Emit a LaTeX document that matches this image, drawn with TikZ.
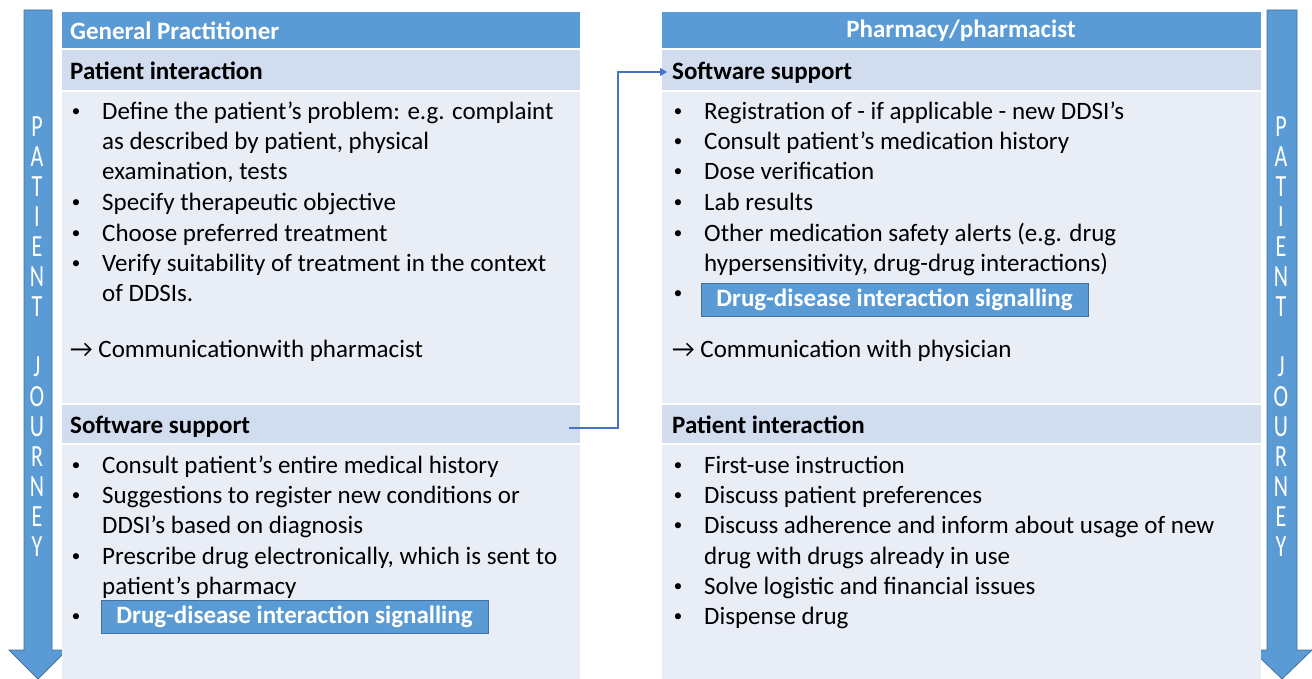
\documentclass[tikz,border=0pt]{standalone}
\usepackage{fontspec}
\setmainfont{Carlito}
\newfontfamily\symfont{DejaVu Sans}
\usetikzlibrary{arrows.meta}
\definecolor{hdr}{HTML}{5B9BD5}
\definecolor{hdrline}{HTML}{41719C}
\definecolor{subfill}{HTML}{D1DCEE}
\definecolor{bodyfill}{HTML}{E9EDF6}
\definecolor{linkcol}{HTML}{4472C4}
\newcommand{\tallch}[1]{\scalebox{1}[1.4]{#1}}
\begin{document}
\begin{tikzpicture}[x=1pt,y=-1pt,
  txt/.style={anchor=base west,inner sep=0pt,font=\fontsize{25}{30}\selectfont},
  bold/.style={txt,font=\fontsize{25}{30}\selectfont\bfseries},
  hdrtxt/.style={inner sep=0pt,text=white,font=\fontsize{25}{30}\selectfont\bfseries},
  dot/.style={anchor=base,inner sep=0pt,font=\symfont\fontsize{21}{24}\selectfont},
  signal/.style={draw=hdrline,line width=0.8pt,fill=hdr,text=white,minimum width=387pt,minimum height=33pt,inner sep=0pt,font=\fontsize{25}{30}\selectfont\bfseries},
  journey/.style={fill=hdr,draw=hdrline,line width=0.8pt},
  letter/.style={inner sep=0pt,text=white,font=\fontsize{22}{26}\selectfont}]
\useasboundingbox (0,0) rectangle (1312,679);

% journey arrows
\draw[journey] (24,10) -- (52,10) -- (52,650) -- (67,650) -- (38,679) -- (9,650) -- (24,650) -- cycle;
\draw[journey] (1267,10) -- (1297,10) -- (1297,650) -- (1312,650) -- (1282,679) -- (1252,650) -- (1267,650) -- cycle;
\foreach \ch [count=\i] in {P,A,T,I,E,N,T,{},J,O,U,R,N,E,Y}{
  \node[letter] (jl\i) at (37,97+30*\i) {\tallch{\ch}};
  \node[letter] (jr\i) at (1281,97+30*\i) {\tallch{\ch}};
}

% left panel
\fill[hdr] (62,12) rectangle (580,48);
\fill[subfill] (62,50) rectangle (580,90);
\fill[bodyfill] (62,92) rectangle (580,403);
\fill[subfill] (62,405) rectangle (580,443);
\fill[bodyfill] (62,445) rectangle (580,679);

% right panel
\fill[hdr] (662,12) rectangle (1261,48);
\fill[subfill] (662,50) rectangle (1261,90);
\fill[bodyfill] (662,92) rectangle (1261,403);
\fill[subfill] (662,405) rectangle (1261,443);
\fill[bodyfill] (662,445) rectangle (1261,679);

% headers
\node[hdrtxt,anchor=west] (gp) at (70,31) {General Practitioner};
\node[hdrtxt] (ph) at (961,31) {Pharmacy/pharmacist};

% left column
\node[bold] (lpi) at (70,80) {Patient interaction};
\node[dot] (lb1) at (76,120) {•};
\node[txt] (l1) at (102,120) {Define the patient’s problem: e.g. complaint};
\node[txt] (l1b) at (102,150) {as described by patient, physical};
\node[txt] (l1c) at (102,180) {examination, tests};
\node[dot] (lb2) at (76,211) {•};
\node[txt] (l2) at (102,211) {Specify therapeutic objective};
\node[dot] (lb3) at (76,241) {•};
\node[txt] (l3) at (102,241) {Choose preferred treatment};
\node[dot] (lb4) at (76,271) {•};
\node[txt] (l4) at (102,271) {Verify suitability of treatment in the context};
\node[txt] (l4b) at (102,301) {of DDSIs.};
\node[txt] (lcom) at (70,357) {→ Communicationwith pharmacist};

\node[bold] (lsw) at (70,433) {Software support};
\node[dot] (lb5) at (76,473) {•};
\node[txt] (l5) at (102,473) {Consult patient’s entire medical history};
\node[dot] (lb6) at (76,503) {•};
\node[txt] (l6) at (102,503) {Suggestions to register new conditions or};
\node[txt] (l6b) at (102,533) {DDSI’s based on diagnosis};
\node[dot] (lb7) at (76,564) {•};
\node[txt] (l7) at (102,564) {Prescribe drug electronically, which is sent to};
\node[txt] (l7b) at (102,594) {patient’s pharmacy};
\node[dot] (lb8) at (76,624) {•};
\node[signal] (lsig) at (294.5,616.5) {Drug-disease interaction signalling};

% right column
\node[bold] (rsw) at (672,80) {Software support};
\node[dot] (rb1) at (678,120) {•};
\node[txt] (r1) at (704,120) {Registration of - if applicable - new DDSI’s};
\node[dot] (rb2) at (678,150) {•};
\node[txt] (r2) at (704,150) {Consult patient’s medication history};
\node[dot] (rb3) at (678,180) {•};
\node[txt] (r3) at (704,180) {Dose verification};
\node[dot] (rb4) at (678,211) {•};
\node[txt] (r4) at (704,211) {Lab results};
\node[dot] (rb5) at (678,241) {•};
\node[txt] (r5) at (704,241) {Other medication safety alerts (e.g. drug};
\node[txt] (r5b) at (704,271) {hypersensitivity, drug-drug interactions)};
\node[dot] (rb6) at (678,301) {•};
\node[signal] (rsig) at (894.5,299.5) {Drug-disease interaction signalling};
\node[txt] (rcom) at (672,357) {→ Communication with physician};

\node[bold] (rpi) at (672,433) {Patient interaction};
\node[dot] (rb7) at (678,473) {•};
\node[txt] (r7) at (704,473) {First-use instruction};
\node[dot] (rb8) at (678,503) {•};
\node[txt] (r8) at (704,503) {Discuss patient preferences};
\node[dot] (rb9) at (678,533) {•};
\node[txt] (r9) at (704,533) {Discuss adherence and inform about usage of new};
\node[txt] (r9b) at (704,564) {drug with drugs already in use};
\node[dot] (rb10) at (678,594) {•};
\node[txt] (r10) at (704,594) {Solve logistic and financial issues};
\node[dot] (rb11) at (678,624) {•};
\node[txt] (r11) at (704,624) {Dispense drug};

% link from GP software support to pharmacy software support
\coordinate (linkfrom) at (569,428);
\coordinate (linkto) at (667,72);
\draw[linkcol,line width=1.5pt,-{Triangle[length=7pt,width=8pt]}] (linkfrom) -- (linkfrom -| 618,0) |- (linkto);
\end{tikzpicture}
\end{document}
